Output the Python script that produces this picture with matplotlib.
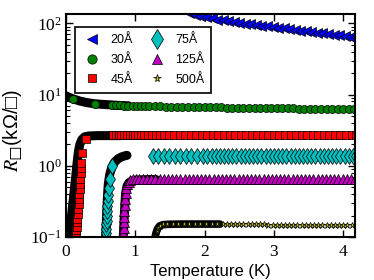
import matplotlib
matplotlib.use("Agg")
import matplotlib.pyplot as plt
from matplotlib.ticker import LogLocator, NullFormatter, FixedLocator

plt.rcParams['mathtext.fontset'] = 'stix'
plt.rcParams['font.family'] = ['Liberation Serif', 'DejaVu Serif']

SANS = ['Liberation Sans', 'DejaVu Sans']

# ---------------- data ----------------
labels = ['20Å', '30Å', '45Å', '75Å', '125Å', '500Å']

# 20 Å
T20 = [1.78, 1.86, 1.94, 2.02, 2.10, 2.18, 2.26, 2.34, 2.42, 2.50, 2.58, 2.66, 2.74, 2.82,
       2.90, 2.98, 3.06, 3.14, 3.22, 3.30, 3.38, 3.46, 3.54, 3.62, 3.70, 3.78, 3.86, 3.94,
       4.02, 4.10, 4.18]
R20 = [140, 131, 126, 121, 117, 113, 110, 107, 104, 101, 98.5, 96.5, 94.5, 92.5,
       90.5, 88.5, 86.5, 84.5, 82.5, 80.5, 78.5, 77, 75.5, 74, 72.5, 71, 69.5, 68,
       66.5, 65, 63.5]

# 30 Å
T30_line = [0.00, 0.05, 0.10, 0.15, 0.20, 0.30, 0.40, 0.50, 0.60, 0.70, 0.80, 0.90]
R30_line = [9.6, 9.1, 8.7, 8.4, 8.1, 7.7, 7.45, 7.3, 7.2, 7.1, 7.0, 6.95]
T30 = [0.10, 0.42, 0.66, 0.72, 0.78, 0.84, 0.90, 0.96, 1.02, 1.08, 1.14, 1.20, 1.28, 1.36,
       1.44, 1.52, 1.60, 1.68, 1.76, 1.84, 1.92, 2.00, 2.08, 2.16, 2.24, 2.32, 2.40, 2.48,
       2.56, 2.64, 2.72, 2.80, 2.88, 2.96, 3.04, 3.12, 3.20, 3.28, 3.36, 3.44, 3.52, 3.60,
       3.68, 3.76, 3.84, 3.92, 4.00, 4.08, 4.16]
R30 = [8.7, 7.4, 7.15, 7.1, 7.05, 7.0, 6.97, 6.95, 6.92, 6.9, 6.88, 6.86, 6.83, 6.8,
       6.78, 6.76, 6.74, 6.72, 6.7, 6.68, 6.66, 6.64, 6.62, 6.6, 6.58, 6.56, 6.55, 6.54,
       6.52, 6.5, 6.48, 6.46, 6.45, 6.44, 6.42, 6.4, 6.38, 6.37, 6.36, 6.35, 6.34, 6.33,
       6.32, 6.3, 6.29, 6.28, 6.27, 6.26, 6.25]

# 45 Å
T45_line = [0.02, 0.05, 0.08, 0.11, 0.14, 0.16, 0.18, 0.20, 0.23, 0.27, 0.33, 0.45, 0.60, 0.80]
R45_line = [0.07, 0.1, 0.2, 0.375, 0.7, 1.1, 1.6, 2.0, 2.35, 2.55, 2.62, 2.65, 2.65, 2.65]
T45 = [0.140, 0.146, 0.152, 0.158, 0.164, 0.170, 0.176, 0.182, 0.188, 0.194, 0.199,
       0.204, 0.208, 0.212, 0.216, 0.220, 0.224, 0.29,
       0.68, 0.72, 0.76, 0.80, 0.84, 0.88, 0.92, 0.96, 1.00, 1.04, 1.08, 1.12, 1.18, 1.24,
       1.30, 1.36, 1.42, 1.48, 1.56, 1.64, 1.72, 1.80, 1.88, 1.96, 2.04, 2.12, 2.20, 2.28,
       2.36, 2.44, 2.52, 2.60, 2.68, 2.76, 2.84, 2.92, 3.00, 3.08, 3.16, 3.24, 3.32, 3.40,
       3.48, 3.56, 3.64, 3.72, 3.80, 3.88, 3.96, 4.04, 4.12, 4.18]
R45 = [0.11, 0.125, 0.14, 0.16, 0.18, 0.21, 0.245, 0.29, 0.34, 0.4, 0.47,
       0.56, 0.66, 0.78, 0.92, 1.1, 1.5, 2.39,
       2.66, 2.68, 2.67, 2.69, 2.68, 2.67, 2.68, 2.69, 2.68, 2.67, 2.68, 2.69, 2.68, 2.67,
       2.68, 2.69, 2.68, 2.67, 2.68, 2.69, 2.68, 2.67, 2.68, 2.68, 2.69, 2.68, 2.67, 2.68,
       2.69, 2.68, 2.67, 2.68, 2.68, 2.69, 2.68, 2.67, 2.68, 2.69, 2.68, 2.67, 2.68, 2.68,
       2.69, 2.68, 2.67, 2.68, 2.69, 2.68, 2.67, 2.68, 2.68, 2.68]

# 75 Å
T75_line = [0.57, 0.58, 0.59, 0.60, 0.61, 0.63, 0.66, 0.70, 0.75, 0.80, 0.85, 0.88]
R75_line = [0.09, 0.15, 0.25, 0.4, 0.55, 0.75, 0.95, 1.12, 1.25, 1.33, 1.38, 1.40]
T75 = [0.575, 0.578, 0.580, 0.583, 0.586, 0.590, 0.594, 0.598, 0.603, 0.610, 0.620,
       0.635, 0.660,
       1.25, 1.33, 1.41, 1.49, 1.57, 1.65, 1.73, 1.81, 1.89, 1.97, 2.04, 2.10, 2.16, 2.22,
       2.28, 2.34, 2.40, 2.46, 2.52, 2.58, 2.64, 2.70, 2.76, 2.82, 2.88, 2.94, 3.00, 3.06,
       3.12, 3.18, 3.24, 3.30, 3.36, 3.42, 3.48, 3.54, 3.60, 3.66, 3.72, 3.78, 3.84, 3.90,
       3.96, 4.02, 4.08, 4.14, 4.19]
R75 = [0.10, 0.115, 0.13, 0.15, 0.17, 0.2, 0.23, 0.27, 0.32, 0.39, 0.48,
       0.65, 1.0,
       1.35, 1.36, 1.36, 1.35, 1.36, 1.36, 1.36, 1.35, 1.36, 1.36, 1.36, 1.36, 1.36, 1.36,
       1.36, 1.36, 1.37, 1.36, 1.36, 1.36, 1.37, 1.36, 1.36, 1.36, 1.37, 1.36, 1.36, 1.36,
       1.37, 1.36, 1.36, 1.37, 1.36, 1.36, 1.37, 1.36, 1.37, 1.36, 1.37, 1.36, 1.37, 1.37,
       1.36, 1.37, 1.37, 1.37, 1.37]

# 125 Å
T125_line = [0.82, 0.83, 0.84, 0.85, 0.86, 0.88, 0.91, 0.95, 1.00, 1.10, 1.20, 1.30]
R125_line = [0.08, 0.12, 0.19, 0.29, 0.41, 0.52, 0.58, 0.61, 0.625, 0.635, 0.64, 0.64]
T125 = [0.825, 0.828, 0.831, 0.834, 0.837, 0.841, 0.846, 0.852, 0.860, 0.870, 0.885,
        0.905, 0.93, 0.97, 1.01, 1.06, 1.11, 1.17, 1.23, 1.29, 1.35, 1.41, 1.47, 1.53,
        1.59, 1.65, 1.71, 1.77, 1.83, 1.89, 1.95, 2.01, 2.07, 2.13, 2.19, 2.25, 2.31,
        2.37, 2.43, 2.49, 2.55, 2.61, 2.67, 2.73, 2.79, 2.85, 2.91, 2.97, 3.03, 3.09,
        3.15, 3.21, 3.27, 3.33, 3.39, 3.45, 3.51, 3.57, 3.63, 3.69, 3.75, 3.81, 3.87,
        3.93, 3.99, 4.05, 4.11, 4.17]
R125 = [0.10, 0.115, 0.135, 0.16, 0.19, 0.23, 0.28, 0.34, 0.41, 0.48, 0.55,
        0.6, 0.63, 0.645, 0.655, 0.66, 0.66, 0.66, 0.66, 0.66, 0.66, 0.66, 0.66, 0.66,
        0.66, 0.66, 0.66, 0.66, 0.66, 0.66, 0.66, 0.66, 0.66, 0.66, 0.66, 0.66, 0.66,
        0.66, 0.66, 0.66, 0.66, 0.66, 0.66, 0.66, 0.66, 0.66, 0.66, 0.66, 0.66, 0.66,
        0.66, 0.66, 0.66, 0.66, 0.66, 0.66, 0.66, 0.66, 0.66, 0.66, 0.66, 0.66, 0.66,
        0.66, 0.66, 0.66, 0.66, 0.66]

# 500 Å
T500_line = [1.28, 1.30, 1.32, 1.35, 1.40, 1.50, 1.70, 1.90, 2.10, 2.22]
R500_line = [0.095, 0.115, 0.13, 0.143, 0.149, 0.151, 0.152, 0.152, 0.152, 0.152]
T500 = [1.29, 1.31, 1.33, 1.36, 1.40, 1.46, 1.54, 1.62, 1.70, 1.78, 1.86, 1.94, 2.02,
        2.10, 2.18, 2.26, 2.32, 2.38, 2.44, 2.50, 2.56, 2.62, 2.68, 2.74, 2.80, 2.86,
        2.92, 2.98, 3.04, 3.10, 3.16, 3.22, 3.28, 3.34, 3.40, 3.46, 3.52, 3.58, 3.64,
        3.70, 3.76, 3.82, 3.88, 3.94, 4.00, 4.06, 4.12, 4.18]
R500 = [0.10, 0.12, 0.135, 0.145, 0.15, 0.151, 0.152, 0.152, 0.152, 0.152, 0.152, 0.152, 0.151,
        0.151, 0.151, 0.151, 0.151, 0.150, 0.150, 0.150, 0.150, 0.150, 0.150, 0.150, 0.150, 0.150,
        0.149, 0.149, 0.149, 0.149, 0.149, 0.149, 0.149, 0.148, 0.148, 0.148, 0.148, 0.148, 0.148,
        0.148, 0.148, 0.147, 0.147, 0.147, 0.147, 0.147, 0.147, 0.147]

x_ticks = [0, 1, 2, 3, 4]
x_ticklabels = ['0', '1', '2', '3', '4']

# ---------------- figure ----------------
fig = plt.figure(figsize=(3.74, 2.80), dpi=100)
ax = fig.add_axes([66/374, 1-237/280, 289/374, 223/280])

blk = dict(color='black', lw=6.5, solid_capstyle='round', solid_joinstyle='round', zorder=1)
ax.plot(T30_line, R30_line, **blk)
ax.plot(T45_line, R45_line, **blk)
ax.plot(T75_line, R75_line, **blk)
ax.plot(T125_line, R125_line, **blk)
ax.plot(T500_line, R500_line, color='black', lw=5.5, solid_capstyle='round', zorder=1)

mk = dict(ls='none', mec='black', mew=0.5, zorder=2)
h20, = ax.plot(T20, R20, marker='<', color='#0000ff', ms=6.5, **mk)
h30, = ax.plot(T30, R30, marker='o', color='#008000', ms=5.8, **mk)
h45, = ax.plot(T45, R45, marker='s', color='#ff0000', ms=5.5, **mk)
h75, = ax.plot(T75, R75, marker='d', color='#00bfbf', ms=8.5, **mk)
h125, = ax.plot(T125, R125, marker='^', color='#bf00bf', ms=6.5, **mk)
h500, = ax.plot(T500, R500, marker='*', color='#bfbf00', ms=5, **mk)

ax.set_yscale('log')
ax.set_xlim(0, 4.17)
ax.set_ylim(0.1, 135)
ax.xaxis.set_major_locator(FixedLocator(x_ticks))
ax.set_xticklabels(x_ticklabels)
ax.yaxis.set_major_locator(LogLocator(base=10, numticks=10))
ax.yaxis.set_minor_locator(LogLocator(base=10, subs=range(2, 10), numticks=10))
ax.yaxis.set_minor_formatter(NullFormatter())

ax.tick_params(which='both', direction='in', top=True, right=True, labelsize=12.5)
ax.tick_params(axis='x', pad=5)
ax.tick_params(axis='y', pad=3)
ax.tick_params(which='major', length=5, width=1)
ax.tick_params(which='minor', length=3, width=0.8)
for s in ax.spines.values():
    s.set_linewidth(1.5)

ax.set_xlabel('Temperature (K)', family=SANS, fontsize=12, labelpad=3)
ax.set_ylabel('$R_{□}$(kΩ/□)', family=SANS, fontsize=14.5)
ax.yaxis.set_label_coords(-0.145, 0.48)

leg = ax.legend([h20, h30, h45, h75, h125, h500], labels, ncol=2, loc='upper left',
                bbox_to_anchor=(0.031, 0.94), borderaxespad=0, fancybox=False,
                edgecolor='black', framealpha=1, prop={'family': SANS, 'size': 9},
                numpoints=1, handlelength=1.6, handletextpad=0.7, columnspacing=1.1,
                labelspacing=0.62, borderpad=0.55, markerscale=1.15)
leg.get_frame().set_linewidth(1.2)

fig.savefig('out.png', dpi=100)
